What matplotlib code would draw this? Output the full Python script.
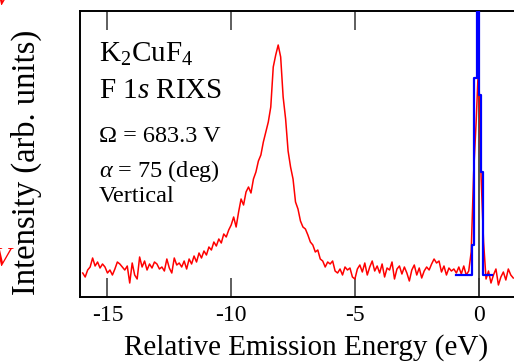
import numpy as np
import matplotlib
matplotlib.use('Agg')
import matplotlib.pyplot as plt

plt.rcParams['font.family'] = ['Liberation Serif', 'DejaVu Serif']
plt.rcParams['mathtext.fontset'] = 'custom'
plt.rcParams['mathtext.rm'] = 'Liberation Serif'
plt.rcParams['mathtext.it'] = 'Liberation Serif:italic'
plt.rcParams['axes.unicode_minus'] = False

# Red RIXS spectrum, 0.1 eV steps from -16.0 to 1.4 eV
energy = np.round(np.arange(-16.0, 1.45, 0.1), 2)
intensity = [
    24, 20, 27, 30, 39, 31, 35, 29, 33, 30,        # -16.0 .. -15.1
    24, 27, 22, 28, 35, 33, 30, 27, 31, 14,        # -15.0 .. -14.1
    34, 22, 18, 40, 30, 36, 27, 33, 29, 35,        # -14.0 .. -13.1
    33, 28, 30, 26, 38, 29, 24, 39, 32, 34,        # -13.0 .. -12.1
    30, 36, 28, 38, 33, 41, 35, 44, 39, 46,        # -12.0 .. -11.1
    42, 50, 47, 55, 51, 58, 54, 63, 60, 67,        # -11.0 .. -10.1
    72, 80, 70, 85, 98, 92, 105, 110, 104, 118,    # -10.0 .. -9.1
    125, 136, 142, 155, 165, 175, 190, 230, 242, 252,  # -9.0 .. -8.1
    240, 200, 178, 146, 130, 118, 95, 88, 76, 70,  # -8.0 .. -7.1
    68, 62, 55, 52, 45, 47, 38, 36, 30, 35,        # -7.0 .. -6.1
    33, 36, 26, 24, 28, 22, 30, 27, 29, 20,        # -6.0 .. -5.1
    18, 28, 32, 25, 34, 22, 30, 36, 26, 31,        # -5.0 .. -4.1
    24, 33, 20, 29, 27, 35, 18, 28, 31, 23,        # -4.0 .. -3.1
    30, 24, 16, 27, 32, 22, 29, 19, 26, 30,        # -3.0 .. -2.1
    27, 33, 38, 34, 36, 25, 31, 22, 29, 26,        # -2.0 .. -1.1
    28, 24, 30, 23, 31, 22, 26, 45, 125, 175,      # -1.0 .. -0.1
    235, 120, 55, 18, 26, 14, 22, 28, 12, 20,      # 0.0 .. 0.9
    25, 17, 28, 22, 19,                            # 1.0 .. 1.4
]

# Blue elastic (resolution) profile, drawn as steps
blue_energy = [-0.93, -0.27, -0.18, -0.07, 0.02, 0.09, 0.17, 0.55]
blue_intensity = [22, 52, 219, 330, 202, 125, 22, 22]

xticks = [-15, -10, -5, 0]

W, H = 514, 362
fig = plt.figure(figsize=(W / 100, H / 100), dpi=100)
ax = fig.add_axes([79.5 / W, 65 / H, (W - 79.5) / W, 286 / H])

ax.axvline(0, color='#333333', lw=1.2, zorder=1)
ax.plot(energy, intensity, color='red', lw=1.1, zorder=2)
ax.plot(blue_energy, blue_intensity, color='blue', lw=1.6, drawstyle='steps-post', zorder=3)

ax.set_xlim(-16.13, 1.43)
ax.set_ylim(0, 286)
ax.set_xticks(xticks)
ax.set_xticklabels([str(t) for t in xticks])
ax.set_yticks([])
ax.tick_params(axis='x', direction='in', length=14, width=1.1, color='#333333',
               top=True, labelsize=17, pad=6)
ax.spines['right'].set_visible(False)
for s in ['left', 'bottom', 'top']:
    ax.spines[s].set_linewidth(1.4)

ax.set_xlabel('Relative Emission Energy (eV)', fontsize=21)
ax.xaxis.set_label_coords(0.521, -0.13)
ax.set_ylabel('Intensity (arb. units)', fontsize=23.5)
ax.yaxis.set_label_coords(-0.086, 0.47)

tx = 99 / W
fig.text(tx, 1 - 62 / H, 'K$_2$CuF$_4$', fontsize=21, va='baseline')
fig.text(tx, 1 - 98 / H, 'F 1$s$ RIXS', fontsize=21, va='baseline')
fig.text(tx, 1 - 142 / H, 'Ω = 683.3 V', fontsize=17.5, va='baseline')
fig.text(tx, 1 - 177 / H, r'$\alpha$ = 75 (deg)', fontsize=17.5, va='baseline')
fig.text(tx, 1 - 202 / H, 'Vertical', fontsize=17.5, va='baseline')

# red markers cut off at the left edge, as in the reference
fig.text(-6 / W, 1 - 266 / H, 'V', color='red', fontsize=20, style='italic', va='baseline')
fig.text(-6 / W, 1 - 5 / H, 'V', color='red', fontsize=20, style='italic', va='baseline')

fig.savefig('out.png', dpi=100)
